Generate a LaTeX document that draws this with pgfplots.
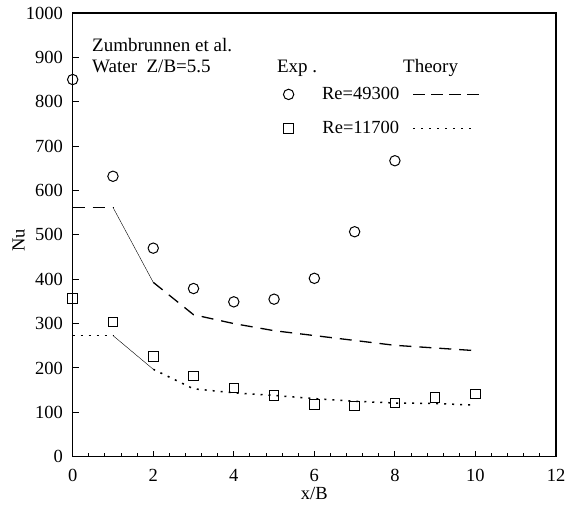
\documentclass[border=0pt]{standalone}
\usepackage{fontspec}
\setmainfont{Liberation Serif}
\usepackage{pgfplots}
\pgfplotsset{compat=1.18}
\pgfplotsset{
 marklegend/.style={legend image code/.code={\path (-8pt,0pt) (31pt,0pt); \draw[##1] plot coordinates {(0pt,0pt)};}},
 linelegend/.style={legend image code/.code={\path[draw=none] (0pt,0pt) (#1,0pt); \draw[##1] (12pt,0pt) -- (#1,0pt);}},
}
\begin{document}
\begin{tikzpicture}
\fontsize{18.5}{22}\selectfont
\begin{axis}[name=ax, scale only axis, width=483.3pt, height=443.7pt,
 xmin=0,xmax=12,ymin=0,ymax=1000,
 xtick={0,2,...,12}, ytick={0,100,...,1000}, minor x tick num=4,
 tick align=inside, xtick pos=bottom, ytick pos=left,
 major tick length=6pt, minor tick length=3.5pt,
 tick style={line width=1pt, black},
 axis line style={line width=1.5pt},
 /pgf/number format/assume math mode=true,
 /pgf/number format/1000 sep={},
 ticklabel style={font=\fontsize{18.5}{22}\selectfont},
 yticklabel style={xshift=-3.5pt},
 xticklabel style={yshift=-6.5pt},
 xlabel={x/B}, ylabel={Nu},
 label style={font=\fontsize{18.5}{22}\selectfont},
 xlabel style={yshift=7pt},
 ylabel style={at={([xshift=-54pt]axis description cs:0,0.488)}, anchor=center},
 clip=false,
 legend columns=2,
 legend style={draw=none, fill=none, inner sep=0pt, outer sep=0pt,
   at={(axis cs:5.15,838)}, anchor=north west, row sep=15pt,
   font=\fontsize{18.5}{22}\selectfont},
]
% Re=49300 experiment
\addplot[only marks, mark=o, mark size=5.2pt, line width=1pt, black, marklegend]
 coordinates {(0,850)(1,632)(2,470)(3,379)(4,349)(5,355)(6,402)(7,507)(8,667)};
\addlegendentry{Re=49300}
\addlegendimage{black, line width=1.3pt, dash pattern=on 12pt off 6pt, linelegend=78pt}
\addlegendentry{}
% Re=11700 experiment
\addplot[only marks, mark=square, mark size=4.8pt, line width=1pt, black, marklegend]
 coordinates {(0,356)(1,304)(2,226)(3,182)(4,155)(5,138)(6,118)(7,114)(8,121)(9,134)(10,141)};
\addlegendentry{Re=11700}
\addlegendimage{black, line width=1.5pt, dash pattern=on 2pt off 6pt, linelegend=74pt}
\addlegendentry{}
% theory Re=49300
\addplot[forget plot, black, line width=1.3pt, dash pattern=on 12pt off 8pt] coordinates {(0,562)(1,562)};
\addplot[forget plot, black, line width=0.4pt] coordinates {(1,562)(2,393)};
\addplot[forget plot, black, line width=1.3pt, dash pattern=on 12pt off 8pt]
 coordinates {(2,393)(3,320)(4,300)(5,284)(6,273)(7,262)(8,251)(9,245)(10,239)};
% theory Re=11700
\addplot[forget plot, black, line width=1.5pt, dash pattern=on 2pt off 6pt] coordinates {(0,273)(1,273)};
\addplot[forget plot, black, line width=0.4pt] coordinates {(1,273)(2,197)};
\addplot[forget plot, black, line width=1.5pt, dash pattern=on 2pt off 6pt]
 coordinates {(2,197)(3,153)(4,144)(5,138)(6,131)(7,125)(8,121)(9,120)(10,116)};
\node[anchor=base west, inner sep=0pt, font=\fontsize{19}{23}\selectfont] at (axis cs:0.48,913) {Zumbrunnen et al.};
\node[anchor=base west, inner sep=0pt, font=\fontsize{19}{23}\selectfont] at (axis cs:0.48,865) {Water\ \ Z/B=5.5};
\node[anchor=base west, inner sep=0pt, font=\fontsize{19}{23}\selectfont] at (axis cs:5.07,865) {Exp .};
\node[anchor=base west, inner sep=0pt, font=\fontsize{19}{23}\selectfont] at (axis cs:8.2,865) {Theory};
\end{axis}
\pgfresetboundingbox
\path ([shift={(-72.7pt,-53.3pt)}]ax.south west) rectangle ([shift={(9pt,13pt)}]ax.north east);
\end{tikzpicture}
\end{document}
